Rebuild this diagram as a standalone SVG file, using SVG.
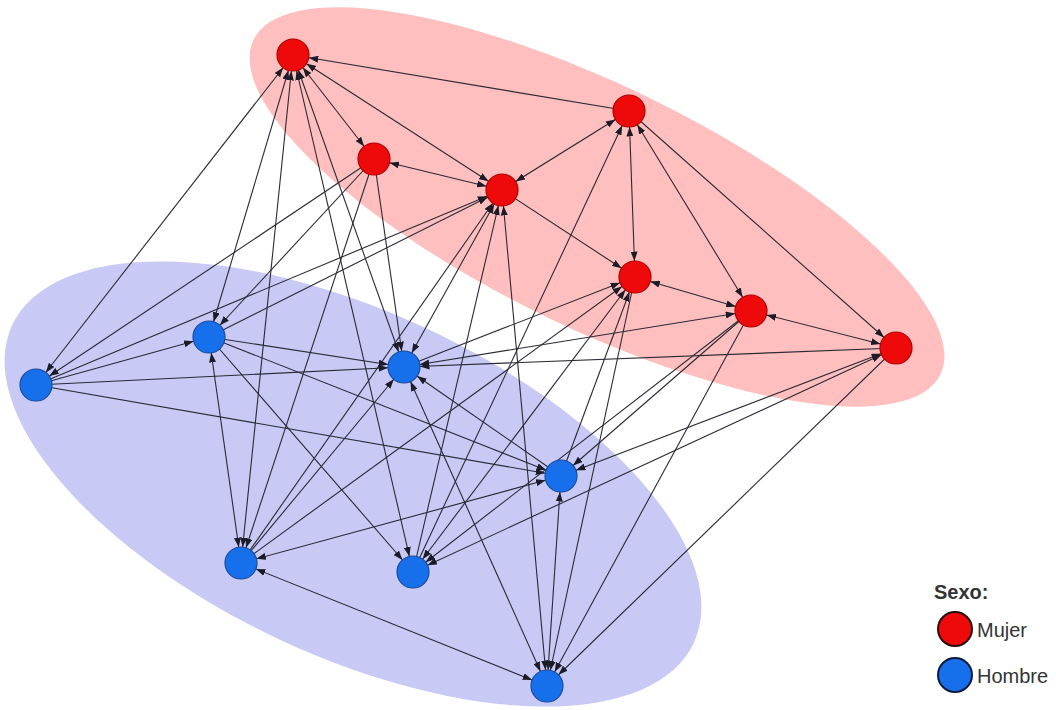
<svg xmlns="http://www.w3.org/2000/svg" width="1056" height="710" viewBox="0 0 1056 710">
<style>
.bg{fill:#ffffff}
.e line{stroke:#2a2a34;stroke-width:1.1;marker-end:url(#ah)}
.e line.b{marker-start:url(#ah)}
.nr{fill:#ee0a0a;stroke:#b00000;stroke-width:1.2}
.nb{fill:#1670ec;stroke:#1a4c9c;stroke-width:1.2}
.lg{font-family:"Liberation Sans",Arial,sans-serif;font-size:20px;fill:#333}
</style>
<defs>
<marker id="ah" markerUnits="userSpaceOnUse" viewBox="0 0 26 7" markerWidth="26" markerHeight="7" refX="25.5" refY="3.5" orient="auto-start-reverse">
<path d="M0,0 L9.5,3.5 L0,7 z" fill="#1c1c28"/>
</marker>
</defs>
<rect class="bg" x="0" y="0" width="1056" height="710"/>
<g id="groups">
<ellipse cx="597" cy="207" rx="382" ry="121" transform="rotate(26 597 207)" fill="#ffbfbf"/>
<ellipse cx="353" cy="484" rx="376" ry="172" transform="rotate(25 353 484)" fill="#c9c9f6"/>
</g>
<g id="connectors" class="e">
<line x1="629" y1="111" x2="293" y2="55"/>
<line class="b" x1="293" y1="55" x2="374" y2="159"/>
<line class="b" x1="293" y1="55" x2="502" y2="190"/>
<line class="b" x1="374" y1="159" x2="502" y2="190"/>
<line class="b" x1="502" y1="190" x2="629" y2="111"/>
<line x1="502" y1="190" x2="635" y2="277"/>
<line class="b" x1="629" y1="111" x2="635" y2="277"/>
<line class="b" x1="629" y1="111" x2="751" y2="311"/>
<line x1="629" y1="111" x2="896" y2="348"/>
<line class="b" x1="635" y1="277" x2="751" y2="311"/>
<line class="b" x1="751" y1="311" x2="896" y2="348"/>
<line class="b" x1="293" y1="55" x2="36" y2="385"/>
<line class="b" x1="293" y1="55" x2="209" y2="337"/>
<line class="b" x1="293" y1="55" x2="241" y2="563"/>
<line class="b" x1="293" y1="55" x2="413" y2="572"/>
<line class="b" x1="293" y1="55" x2="404" y2="367"/>
<line x1="374" y1="159" x2="36" y2="385"/>
<line x1="374" y1="159" x2="209" y2="337"/>
<line x1="374" y1="159" x2="241" y2="563"/>
<line x1="374" y1="159" x2="404" y2="367"/>
<line x1="36" y1="385" x2="502" y2="190"/>
<line x1="209" y1="337" x2="502" y2="190"/>
<line class="b" x1="502" y1="190" x2="404" y2="367"/>
<line x1="241" y1="563" x2="502" y2="190"/>
<line x1="413" y1="572" x2="502" y2="190"/>
<line class="b" x1="547" y1="686" x2="502" y2="190"/>
<line x1="413" y1="572" x2="629" y2="111"/>
<line x1="404" y1="367" x2="635" y2="277"/>
<line x1="241" y1="563" x2="635" y2="277"/>
<line x1="561" y1="476" x2="635" y2="277"/>
<line x1="635" y1="277" x2="547" y2="686"/>
<line class="b" x1="635" y1="277" x2="413" y2="572"/>
<line class="b" x1="751" y1="311" x2="404" y2="367"/>
<line x1="751" y1="311" x2="561" y2="476"/>
<line x1="751" y1="311" x2="413" y2="572"/>
<line x1="751" y1="311" x2="547" y2="686"/>
<line x1="896" y1="348" x2="404" y2="367"/>
<line class="b" x1="896" y1="348" x2="561" y2="476"/>
<line class="b" x1="896" y1="348" x2="413" y2="572"/>
<line x1="896" y1="348" x2="547" y2="686"/>
<line x1="36" y1="385" x2="209" y2="337"/>
<line x1="36" y1="385" x2="404" y2="367"/>
<line x1="36" y1="385" x2="561" y2="476"/>
<line x1="209" y1="337" x2="404" y2="367"/>
<line x1="209" y1="337" x2="561" y2="476"/>
<line x1="209" y1="337" x2="413" y2="572"/>
<line class="b" x1="209" y1="337" x2="241" y2="563"/>
<line x1="241" y1="563" x2="404" y2="367"/>
<line x1="561" y1="476" x2="404" y2="367"/>
<line class="b" x1="547" y1="686" x2="404" y2="367"/>
<line class="b" x1="241" y1="563" x2="561" y2="476"/>
<line class="b" x1="241" y1="563" x2="547" y2="686"/>
<line class="b" x1="547" y1="686" x2="561" y2="476"/>
</g>
<g id="R1"><circle class="nr" cx="293" cy="55" r="16"/></g>
<g id="R2"><circle class="nr" cx="374" cy="159" r="16"/></g>
<g id="R3"><circle class="nr" cx="502" cy="190" r="16"/></g>
<g id="R4"><circle class="nr" cx="629" cy="111" r="16"/></g>
<g id="R5"><circle class="nr" cx="635" cy="277" r="16"/></g>
<g id="R6"><circle class="nr" cx="751" cy="311" r="16"/></g>
<g id="R7"><circle class="nr" cx="896" cy="348" r="16"/></g>
<g id="B1"><circle class="nb" cx="36" cy="385" r="16"/></g>
<g id="B2"><circle class="nb" cx="209" cy="337" r="16"/></g>
<g id="B3"><circle class="nb" cx="404" cy="367" r="16"/></g>
<g id="B4"><circle class="nb" cx="561" cy="476" r="16"/></g>
<g id="B5"><circle class="nb" cx="241" cy="563" r="16"/></g>
<g id="B6"><circle class="nb" cx="413" cy="572" r="16"/></g>
<g id="B7"><circle class="nb" cx="547" cy="686" r="16"/></g>
<g id="legend">
<text class="lg" x="934" y="599" font-weight="bold" font-size="18">Sexo:</text>
<circle cx="955" cy="629" r="17" fill="#ee0a0a" stroke="#2a0a0a" stroke-width="2"/>
<text class="lg" x="977" y="637">Mujer</text>
<circle cx="955" cy="675" r="17" fill="#1670ec" stroke="#0a1a3a" stroke-width="2"/>
<text class="lg" x="977" y="683">Hombre</text>
</g>
</svg>
